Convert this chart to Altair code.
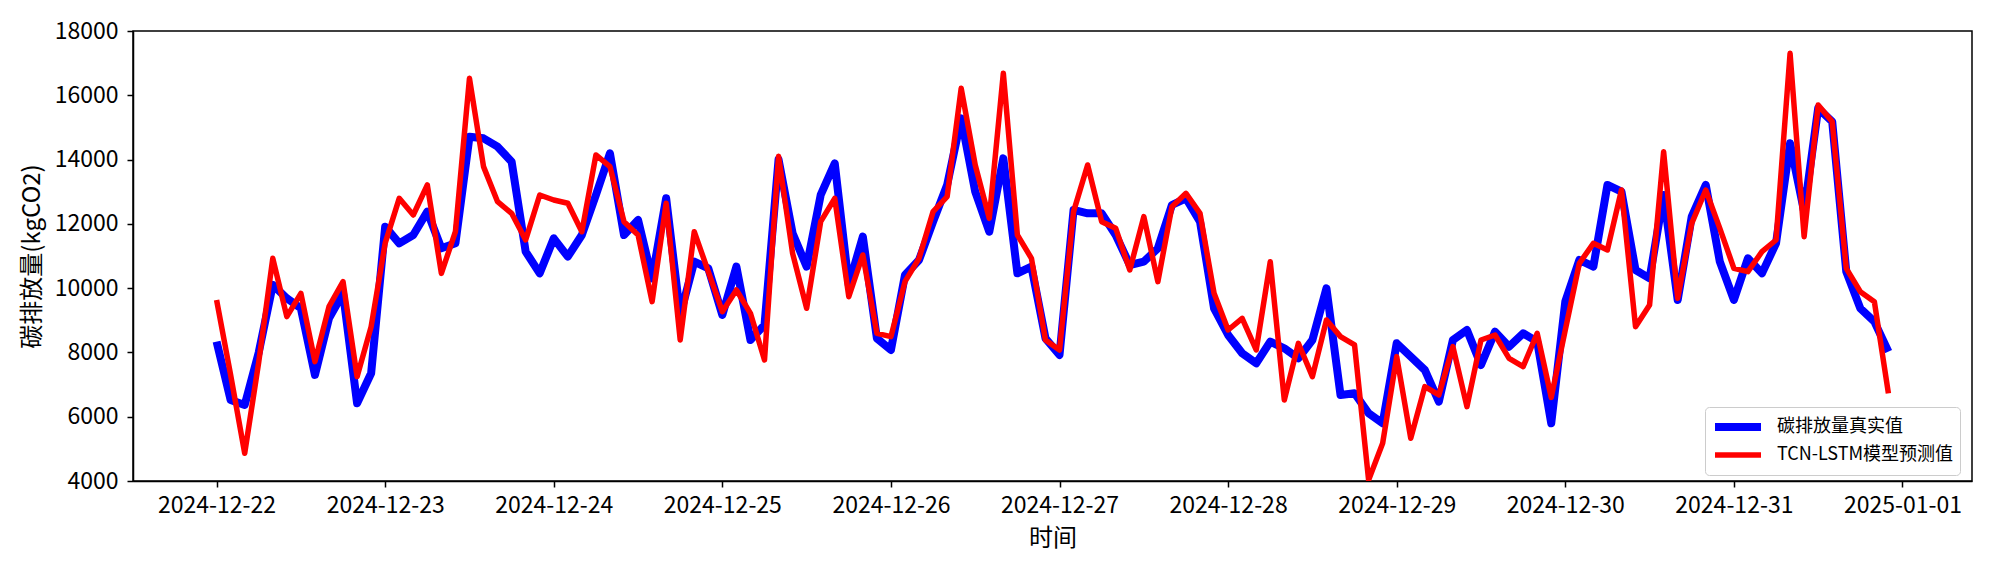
import altair as alt
import pandas as pd

# 2-hour samples from 2024-12-22 00:00 to 2024-12-31 22:00
times = pd.date_range("2024-12-22 00:00", periods=120, freq="2h", tz="UTC")

real_values = [
    8335, 6520, 6365, 8000, 10100, 9683, 9372, 7300, 9061, 9840, 6417, 7350,
    11913, 11394, 11654, 12380, 11240, 11394, 14713, 14661, 14402, 13935, 11136, 10461,
    11550, 10980, 11654, 12898, 14195, 11654, 12120, 10305, 12795, 9165, 10824, 10617,
    9165, 10669, 8387, 8854, 14000, 11706, 10669, 12898, 13883, 10098, 11602, 8439,
    8076, 10409, 10876, 12068, 13210, 15283, 13002, 11757, 14039, 10461, 10669, 8439,
    7921, 12432, 12328, 12328, 11654, 10720, 10824, 11240, 12587, 12795, 12068, 9372,
    8543, 7973, 7661, 8335, 8128, 7817, 8387, 9995, 6676, 6728, 6106, 5795,
    8284, 7869, 7454, 6469, 8387, 8698, 7609, 8646, 8180, 8595, 8335, 5795,
    9580, 10876, 10669, 13210, 13002, 10565, 10305, 12900, 9632, 12224, 13210, 10824,
    9632, 10928, 10461, 11394, 14506, 12380, 15594, 15180, 10513, 9372, 8958, 8024,
]

pred_values = [
    9632, 7300, 4862, 7700, 10928, 9113, 9839, 7713, 9424, 10200, 7247, 8802,
    11400, 12795, 12276, 13210, 10460, 11757, 16528, 13780, 12690, 12328, 11500, 12898,
    12743, 12640, 11757, 14143, 13780, 12068, 11654, 9580, 12640, 8387, 11757, 10513,
    9269, 9943, 9217, 7765, 14100, 11083, 9373, 12068, 12795, 9735, 11032, 8595,
    8491, 10202, 10928, 12380, 12846, 16217, 13832, 12172, 16683, 11654, 10928, 8387,
    8076, 12380, 13832, 12068, 11861, 10565, 12224, 10202, 12535, 12950, 12328, 9839,
    8698, 9061, 8076, 10824, 6520, 8284, 7247, 9009, 8491, 8232, 4032, 5173,
    7869, 5328, 6935, 6676, 8180, 6313, 8387, 8543, 7817, 7557, 8595, 6600,
    8698, 10772, 11394, 11187, 13054, 8802, 9476, 14246, 9684, 12017, 13054, 11861,
    10617, 10513, 11135, 11498, 17305, 11602, 15698, 15180, 10617, 9891, 9580, 6728,
]

series_names = ["碳排放量真实值", "TCN-LSTM模型预测值"]
series_colors = ["#0000ff", "#ff0000"]
series_widths = [8, 5.5]

tick_dates = pd.date_range("2024-12-22", "2025-01-01", freq="D", tz="UTC")
y_ticks = [4000, 6000, 8000, 10000, 12000, 14000, 16000, 18000]

ms = lambda t: int(t.timestamp() * 1000)
t_ms = [ms(t) for t in times]
span = t_ms[-1] - t_ms[0]
x_domain = [t_ms[0] - 0.05 * span, t_ms[-1] + 0.05 * span]
x_ticks = [ms(t) for t in tick_dates]

df_real = pd.DataFrame({"time": t_ms, "value": real_values, "series": series_names[0]})
df_pred = pd.DataFrame({"time": t_ms, "value": pred_values, "series": series_names[1]})

FONT = "Noto Sans CJK SC"

x_enc = alt.X(
    "time:T",
    scale=alt.Scale(type="utc", domain=x_domain, nice=False),
    axis=alt.Axis(
        values=x_ticks, format="%Y-%m-%d", formatType="time", title="时间",
        grid=False, tickSize=6, labelPadding=7, titlePadding=9,
        labelFontSize=23, titleFontSize=24, labelColor="black", titleColor="black",
        titleFontWeight="normal", labelFlush=False,
        domainColor="black", tickColor="black", domainWidth=1.5, tickWidth=1.5,
    ),
)
y_enc = alt.Y(
    "value:Q",
    scale=alt.Scale(domain=[4000, 18000], nice=False, zero=False),
    axis=alt.Axis(
        values=y_ticks, format="d", title="碳排放量(kgCO2)", grid=False,
        tickSize=6, labelPadding=9, titlePadding=10,
        labelFontSize=23, titleFontSize=24, labelColor="black", titleColor="black",
        titleFontWeight="normal", labelFlush=False,
        domainColor="black", tickColor="black", domainWidth=1.5, tickWidth=1.5,
    ),
)
color_enc = alt.Color(
    "series:N",
    scale=alt.Scale(domain=series_names, range=series_colors),
    title=None,
    legend=alt.Legend(
        orient="none", legendX=1572, legendY=376, symbolType="stroke",
        symbolSize=2116, clipHeight=28, labelFontSize=18, labelOffset=12,
        labelLimit=400, labelColor="black", padding=6,
        fillColor="rgba(255,255,255,0.85)",
        strokeColor="#cccccc", cornerRadius=4, rowPadding=0,
    ),
)
width_enc = alt.StrokeWidth(
    "series:N",
    scale=alt.Scale(domain=series_names, range=series_widths),
    title=None,
)

real_line = alt.Chart(df_real).mark_line(clip=True, strokeJoin="round").encode(
    x=x_enc, y=y_enc, color=color_enc, strokeWidth=width_enc
)
pred_line = alt.Chart(df_pred).mark_line(clip=True, strokeJoin="round").encode(
    x=x_enc, y=y_enc, color=color_enc, strokeWidth=width_enc
)

chart = (
    alt.layer(real_line, pred_line)
    .properties(
        width=1839, height=450,
        autosize=alt.AutoSizeParams(type="none"),
        padding={"left": 125, "top": 23, "right": 15, "bottom": 72},
    )
    .configure(font=FONT)
    .configure_view(stroke="black", strokeWidth=1.5)
)

chart.save("out.html", embed_options={"renderer": "svg", "actions": False})
